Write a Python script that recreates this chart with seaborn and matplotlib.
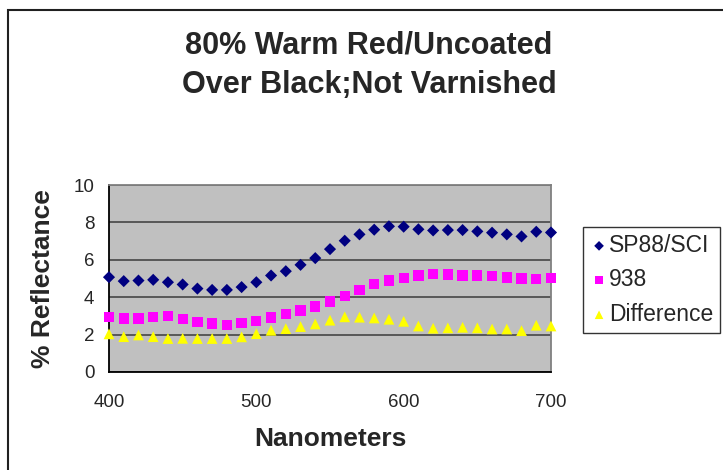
import seaborn as sns
import pandas as pd
import matplotlib.pyplot as plt
from matplotlib.patches import Rectangle

# wavelengths every 10 nm
nm = list(range(400, 701, 10))

sp88 = [5.07, 4.86, 4.89, 4.93, 4.80, 4.68, 4.46, 4.39, 4.39, 4.54, 4.80,
        5.16, 5.39, 5.73, 6.09, 6.57, 7.02, 7.36, 7.61, 7.79, 7.77,
        7.63, 7.57, 7.59, 7.59, 7.52, 7.45, 7.36, 7.25, 7.50, 7.46]
s938 = [2.95, 2.86, 2.86, 2.95, 2.98, 2.82, 2.66, 2.59, 2.52, 2.61, 2.71,
        2.91, 3.11, 3.29, 3.50, 3.77, 4.05, 4.38, 4.70, 4.89, 5.04,
        5.16, 5.23, 5.21, 5.16, 5.16, 5.13, 5.05, 5.00, 4.98, 5.02]
diff = [2.04, 1.89, 1.98, 1.89, 1.79, 1.80, 1.79, 1.79, 1.79, 1.88, 2.05,
        2.23, 2.32, 2.43, 2.57, 2.77, 2.95, 2.93, 2.89, 2.82, 2.71,
        2.46, 2.34, 2.36, 2.39, 2.36, 2.30, 2.30, 2.21, 2.50, 2.46]

df = pd.DataFrame({"nm": nm, "SP88/SCI": sp88, "938": s938, "Difference": diff})

sns.set_style("white")
plt.rcParams["font.family"] = ["Liberation Sans", "DejaVu Sans"]

fig = plt.figure(figsize=(7.23, 4.70), dpi=100)
ax = fig.add_axes([109 / 723, 1 - 372 / 470, 442 / 723, 187 / 470])
ax.set_facecolor("#c0c0c0")

sns.scatterplot(data=df, x="nm", y="SP88/SCI", marker="D", color="#000080",
                s=38, edgecolor="none", label="SP88/SCI", ax=ax, zorder=3,
                clip_on=False)
sns.scatterplot(data=df, x="nm", y="938", marker="s", color="#ff00ff",
                s=55, edgecolor="none", label="938", ax=ax, zorder=3,
                clip_on=False)
sns.scatterplot(data=df, x="nm", y="Difference", marker="^", color="#ffff00",
                s=60, edgecolor="none", label="Difference", ax=ax, zorder=3,
                clip_on=False)

ax.set_xlim(400, 700)
ax.set_ylim(0, 10)
ax.set_xticks([400, 500, 600, 700])
ax.set_yticks([0, 2, 4, 6, 8, 10])
ax.grid(axis="y", color="#505050", linewidth=1.3)
ax.set_axisbelow(True)
ax.tick_params(axis="both", labelsize=13.5, direction="out", length=4.5,
               width=1, color="black")
ax.tick_params(axis="x", pad=11)
ax.tick_params(axis="y", pad=6)
for side in ["left", "bottom"]:
    ax.spines[side].set_color("black")
for side in ["top", "right"]:
    ax.spines[side].set_color("#808080")
for sp in ax.spines.values():
    sp.set_linewidth(1.3)
ax.set_xlabel("")
ax.set_ylabel("")

ax.get_legend().remove()
handles, labels = ax.get_legend_handles_labels()
leg = fig.legend(handles, labels, loc="upper left",
                 bbox_to_anchor=(583 / 723, 1 - 227 / 470),
                 fontsize=16.5, frameon=True, fancybox=False, borderpad=0.3,
                 handletextpad=0.05, handlelength=0.8, labelspacing=0.5,
                 markerscale=0.8, borderaxespad=0)
leg.get_frame().set_edgecolor("black")
leg.get_frame().set_linewidth(1)

fig.text(369 / 723, 1 - 65 / 470,
         "80% Warm Red/Uncoated\nOver Black;Not Varnished",
         ha="center", va="center", fontsize=22, fontweight="bold",
         linespacing=1.4)
fig.text(43 / 723, 1 - 279 / 470, "% Reflectance", rotation=90,
         ha="center", va="center", fontsize=19, fontweight="bold")
fig.text(330 / 723, 1 - 439 / 470, "Nanometers",
         ha="center", va="center", fontsize=19, fontweight="bold")

# chart area border (right/bottom edges fall outside the image)
fig.patches.append(Rectangle((8 / 723, -0.1), 1.2, 1 - 10 / 470 + 0.1,
                             transform=fig.transFigure, fill=False,
                             edgecolor="#202020", linewidth=1.5))

fig.savefig("out.png", dpi=100)
